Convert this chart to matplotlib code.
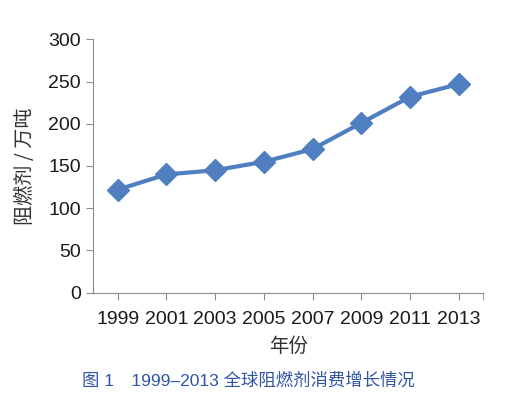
import matplotlib
matplotlib.use('Agg')
from matplotlib import pyplot as plt

years = ['1999', '2001', '2003', '2005', '2007', '2009', '2011', '2013']
consumption = [122, 140, 145, 155, 170, 201, 232, 247]

plt.rcParams['font.family'] = ['Liberation Sans', 'Noto Sans CJK SC', 'DejaVu Sans']

fig = plt.figure(figsize=(5.07, 3.95), dpi=100)
ax = fig.add_axes([0.184, 0.259, 0.769, 0.6415])

x = list(range(len(years)))
ax.plot(x, consumption, color='#4f7fc0', lw=3, marker='D', markersize=11,
        markeredgecolor='#4f7fc0', markerfacecolor='#4f7fc0')

ax.set_xlim(-0.5, len(years) - 0.5)
ax.set_ylim(0, 300)
ax.set_yticks(range(0, 301, 50))
ax.set_xticks(x)
ax.set_xticklabels(years)
ax.set_xticks([len(years) - 0.5], minor=True)

for s in ['top', 'right']:
    ax.spines[s].set_visible(False)
for s in ['left', 'bottom']:
    ax.spines[s].set_color('#8c8c8c')
ax.tick_params(axis='both', which='both', direction='out', length=5,
               color='#8c8c8c', labelsize=14, labelcolor='#1a1a1a')
ax.tick_params(axis='x', pad=8)
ax.tick_params(axis='y', pad=4)

ax.set_ylabel('阻燃剂 / 万吨', family=['Noto Sans CJK SC'], fontsize=14.5,
              color='#333333', labelpad=9)
ax.set_xlabel('年份', family=['Noto Sans CJK SC'], fontsize=14,
              color='#333333', labelpad=6)

fig.text(0.162, 0.024, '图 1　1999–2013 全球阻燃剂消费增长情况',
         family=['Liberation Sans', 'Noto Sans CJK SC'], fontsize=12.5,
         color='#2f55a4', ha='left', va='baseline')

fig.savefig('out.png', dpi=100)
